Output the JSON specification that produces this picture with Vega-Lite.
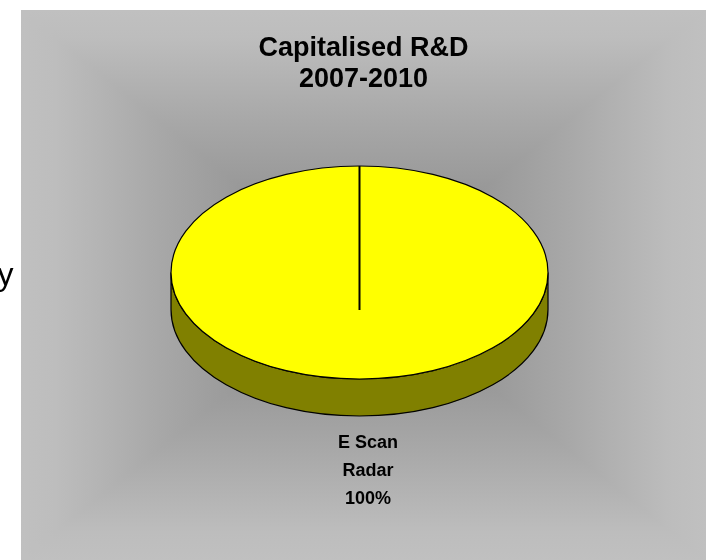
{
  "$schema": "https://vega.github.io/schema/vega-lite/v6.json",
  "width": 685,
  "height": 550,
  "autosize": {"type": "none"},
  "padding": {"left": 21, "top": 10, "right": 0, "bottom": 0},
  "background": "white",
  "config": {"view": {"stroke": null}, "font": "Liberation Sans"},
  "title": {
    "text": ["Capitalised R&D", "2007-2010"],
    "anchor": "middle",
    "frame": "group",
    "fontSize": 27,
    "fontWeight": "bold",
    "font": "Liberation Sans",
    "color": "black",
    "lineHeight": 31,
    "offset": -83
  },
  "data": {"values": [{"category": "E Scan Radar", "label": "E Scan\nRadar", "share": 1}]},
  "layer": [
    {
      "mark": {"type": "rect", "fill": {"gradient": "linear", "x1": 0, "y1": 0, "x2": 0, "y2": 1,
        "stops": [
          {"offset": 0, "color": "#c0c0c0"}, {"offset": 0.05, "color": "#bdbdbd"}, {"offset": 0.2, "color": "#a8a8a8"},
          {"offset": 0.35, "color": "#959595"}, {"offset": 0.5, "color": "#8c8c8c"}, {"offset": 0.65, "color": "#959595"},
          {"offset": 0.8, "color": "#a8a8a8"}, {"offset": 0.95, "color": "#bdbdbd"}, {"offset": 1, "color": "#c0c0c0"}]}},
      "encoding": {}
    },
    {
      "mark": {"type": "rect", "blend": "lighten", "fill": {"gradient": "linear", "x1": 0, "y1": 0, "x2": 1, "y2": 0,
        "stops": [
          {"offset": 0, "color": "#c0c0c0"}, {"offset": 0.05, "color": "#bdbdbd"}, {"offset": 0.2, "color": "#a8a8a8"},
          {"offset": 0.35, "color": "#959595"}, {"offset": 0.5, "color": "#8c8c8c"}, {"offset": 0.65, "color": "#959595"},
          {"offset": 0.8, "color": "#a8a8a8"}, {"offset": 0.95, "color": "#bdbdbd"}, {"offset": 1, "color": "#c0c0c0"}]}},
      "encoding": {}
    },
    {
      "mark": {
        "type": "point",
        "shape": "M -192.5 -12.5 L -192.5 24.5 A 188.5 106.5 0 0 0 184.5 24.5 L 184.5 -12.5 A 188.5 106.5 0 0 1 -192.5 -12.5 Z",
        "size": 4,
        "filled": true,
        "fill": "#808000",
        "stroke": "black",
        "strokeWidth": 1.2,
        "opacity": 1
      },
      "encoding": {}
    },
    {
      "mark": {
        "type": "point",
        "shape": "M -192.5 -12.5 A 188.5 106.5 0 0 0 184.5 -12.5 A 188.5 106.5 0 0 0 -192.5 -12.5 Z",
        "size": 4,
        "filled": true,
        "stroke": "black",
        "strokeWidth": 1.2,
        "opacity": 1
      },
      "encoding": {
        "fill": {"field": "category", "type": "nominal", "scale": {"range": ["#ffff00"]}, "legend": null}
      }
    },
    {
      "mark": {
        "type": "point",
        "shape": "M -4 -119 L -4 25",
        "size": 4,
        "filled": false,
        "stroke": "black",
        "strokeWidth": 2,
        "opacity": 1
      },
      "encoding": {}
    },
    {
      "mark": {"type": "text", "font": "Liberation Sans", "fontWeight": "bold", "fontSize": 18, "lineBreak": "\n", "lineHeight": 28, "baseline": "middle", "align": "center", "dx": 4.5, "dy": 158, "color": "black"},
      "encoding": {"text": {"field": "label", "type": "nominal"}}
    },
    {
      "mark": {"type": "text", "font": "Liberation Sans", "fontWeight": "bold", "fontSize": 18, "baseline": "middle", "align": "center", "dx": 4.5, "dy": 214, "color": "black"},
      "encoding": {"text": {"field": "share", "type": "quantitative", "format": ".0%"}}
    },
    {
      "mark": {"type": "text", "text": "y", "font": "Liberation Sans", "fontSize": 32, "baseline": "alphabetic", "align": "right", "dx": -350, "dy": 0, "color": "black", "clip": false},
      "encoding": {}
    }
  ]
}
